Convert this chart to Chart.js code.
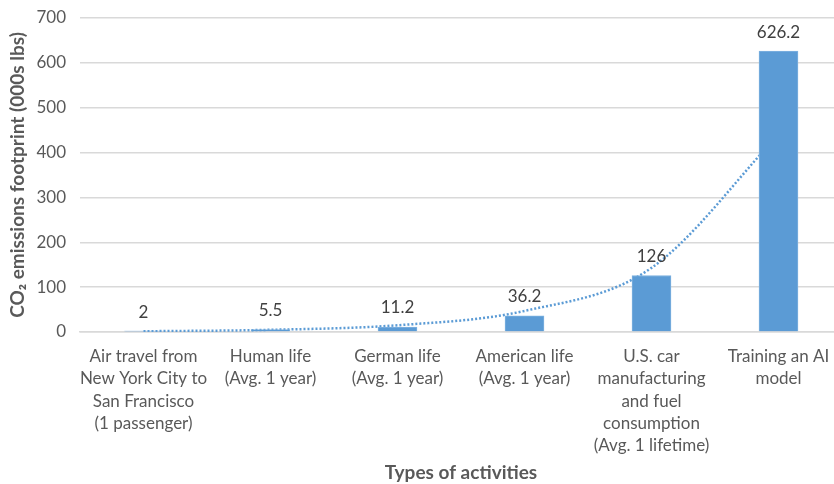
<!DOCTYPE html>
<html>
<head>
<meta charset="utf-8">
<script src="https://cdn.jsdelivr.net/npm/chart.js@4/dist/chart.umd.min.js"></script>
<style>
  html, body { margin: 0; padding: 0; background: #fff; overflow: hidden; }
  #wrap { width: 842px; height: 484px; }
</style>
</head>
<body>
<div id="wrap"><canvas id="chart" width="842" height="484"></canvas></div>
<script>
// ─── Data ─────────────────────────────────────────────────────────────
const categories = [
  ["Air travel from", "New York City to", "San Francisco", "(1 passenger)"],
  ["Human life", "(Avg. 1 year)"],
  ["German life", "(Avg. 1 year)"],
  ["American life", "(Avg. 1 year)"],
  ["U.S. car", "manufacturing", "and fuel", "consumption", "(Avg. 1 lifetime)"],
  ["Training an AI", "model"],
];
const emissions = [2, 5.5, 11.2, 36.2, 126, 626.2];
// dotted trendline at each category centre
const trendValues = [1.6, 4.9, 15, 47, 143, 440];
const yTicks = [0, 100, 200, 300, 400, 500, 600, 700];

// ─── Style ────────────────────────────────────────────────────────────
const FONT = "Lato, 'Open Sans', sans-serif";
const BLUE = "#5B9BD5";
const GRID = "#D9D9D9";
const TICK = "#595959";

// value labels above the bars
const barLabels = {
  id: "barLabels",
  afterDatasetsDraw(chart) {
    const meta = chart.getDatasetMeta(0);
    const ctx = chart.ctx;
    ctx.save();
    ctx.font = "17px " + FONT;
    ctx.fillStyle = "#404040";
    ctx.textAlign = "center";
    ctx.textBaseline = "middle";
    meta.data.forEach((bar, i) => {
      ctx.fillText(String(emissions[i]), bar.x, bar.y - 19);
    });
    ctx.restore();
  },
};

const ctx = document.getElementById("chart").getContext("2d");
new Chart(ctx, {
  data: {
    labels: categories,
    datasets: [
      {
        type: "bar",
        label: "CO2",
        data: emissions,
        backgroundColor: BLUE,
        borderColor: "#7FB2E0",
        borderWidth: 1,
        barThickness: 39,
        order: 1,
      },
      {
        type: "line",
        label: "Trend",
        data: trendValues,
        borderColor: BLUE,
        borderWidth: 2.5,
        borderDash: [2, 2],
        pointRadius: 0,
        fill: false,
        cubicInterpolationMode: "monotone",
        order: 2,
      },
    ],
  },
  options: {
    responsive: false,
    animation: false,
    layout: { padding: { top: 18, right: 0, bottom: 0, left: 0 } },
    plugins: {
      legend: { display: false },
      tooltip: { enabled: false },
    },
    scales: {
      x: {
        grid: { display: false },
        border: { color: GRID, width: 1.5 },
        ticks: {
          color: TICK,
          font: { family: FONT, size: 17, lineHeight: 1.32 },
          maxRotation: 0,
          autoSkip: false,
          padding: 5,
        },
        title: {
          display: true,
          text: "Types of activities",
          color: TICK,
          font: { family: FONT, size: 19, weight: "bold" },
          padding: { top: 0, bottom: 0 },
        },
        afterFit(scale) { scale.height = 152; },
      },
      y: {
        min: 0,
        max: 700,
        afterBuildTicks(scale) { scale.ticks = yTicks.map((v) => ({ value: v })); },
        grid: { color: GRID, lineWidth: 1.5, drawTicks: false },
        border: { display: false },
        ticks: {
          color: TICK,
          font: { family: FONT, size: 17 },
          padding: 14,
        },
        title: {
          display: true,
          text: "CO₂ emissions footprint (000s lbs)",
          color: TICK,
          font: { family: FONT, size: 19, weight: "bold" },
          padding: { top: 6, bottom: 0 },
        },
        afterFit(scale) {
          scale.width = 80;
          scale.paddingTop = 0;
          scale.paddingBottom = 0;
        },
      },
    },
  },
  plugins: [barLabels],
});
</script>
</body>
</html>
